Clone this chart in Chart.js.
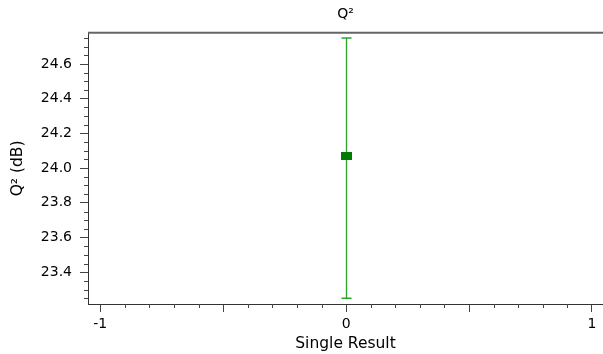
<!DOCTYPE html>
<html>
<head>
<meta charset="utf-8">
<script src="https://cdn.jsdelivr.net/npm/chart.js@4/dist/chart.umd.min.js"></script>
<style>
  html, body { margin: 0; padding: 0; background: #fff; }
  #wrap { width: 603px; height: 354px; }
</style>
</head>
<body>
<div id="wrap"><canvas id="chart" width="603" height="354"></canvas></div>
<script>
// data
const xValues = [0];
const q2Values = [24.07];
const q2Upper = [24.75];
const q2Lower = [23.25];

const xTickValues = [-1, -0.5, 0, 0.5, 1];
const xTickLabels = ["-1", "", "0", "", "1"];
const yTickValues = [23.4, 23.6, 23.8, 24.0, 24.2, 24.4, 24.6];

const xRange = [-1.05, 1.045];
const yRange = [23.217, 24.78];

const FONT = "'DejaVu Sans', 'Liberation Sans', Arial, sans-serif";

// small filled rectangle used as the marker
const marker = document.createElement("canvas");
marker.width = 11;
marker.height = 8;
const mctx = marker.getContext("2d");
mctx.fillStyle = "#007a00";
mctx.fillRect(0, 0, 11, 8);

const errorBars = {
  id: "errorBars",
  beforeDatasetsDraw(chart) {
    const { ctx, scales: { x, y } } = chart;
    ctx.save();
    ctx.strokeStyle = "#2aa52a";
    ctx.lineWidth = 1.3;
    xValues.forEach((v, i) => {
      const px = Math.round(x.getPixelForValue(v)) + 0.5;
      const top = y.getPixelForValue(q2Upper[i]);
      const bot = y.getPixelForValue(q2Lower[i]);
      ctx.beginPath();
      ctx.moveTo(px, top);
      ctx.lineTo(px, bot);
      ctx.moveTo(px - 5, top);
      ctx.lineTo(px + 5, top);
      ctx.moveTo(px - 5, bot);
      ctx.lineTo(px + 5, bot);
      ctx.stroke();
    });
    ctx.restore();
  },
};

const frame = {
  id: "frame",
  afterDraw(chart) {
    const { ctx, chartArea: a, scales: { x, y } } = chart;
    ctx.save();
    // top border
    ctx.strokeStyle = "#666";
    ctx.lineWidth = 2;
    ctx.beginPath();
    ctx.moveTo(a.left, a.top);
    ctx.lineTo(a.right, a.top);
    ctx.stroke();

    // minor ticks
    ctx.strokeStyle = "#444";
    ctx.lineWidth = 1;
    ctx.beginPath();
    for (let k = Math.ceil(yRange[0] / 0.05); k * 0.05 <= yRange[1]; k++) {
      if (k % 4 === 0) continue;
      const py = Math.round(y.getPixelForValue(k * 0.05)) + 0.5;
      ctx.moveTo(a.left - 4, py);
      ctx.lineTo(a.left, py);
    }
    for (let k = -10; k <= 10; k++) {
      if (k % 5 === 0) continue;
      const px = Math.round(x.getPixelForValue(k / 10)) + 0.5;
      ctx.moveTo(px, a.bottom);
      ctx.lineTo(px, a.bottom + 4);
    }
    ctx.stroke();
    ctx.restore();
  },
};

new Chart(document.getElementById("chart"), {
  type: "scatter",
  data: {
    datasets: [{
      label: "Q2",
      data: xValues.map((v, i) => ({ x: v, y: q2Values[i] })),
      pointStyle: marker,
      pointRadius: 6,
      backgroundColor: "#007a00",
      borderColor: "#007a00",
    }],
  },
  options: {
    responsive: false,
    animation: false,
    devicePixelRatio: 1,
    layout: { autoPadding: false, padding: 0 },
    plugins: {
      legend: { display: false },
      tooltip: { enabled: false },
      title: {
        display: true,
        fullSize: false,
        text: "Q²",
        color: "#000",
        font: { family: FONT, size: 14, weight: "normal" },
        padding: { top: 6, bottom: 10 },
      },
    },
    scales: {
      x: {
        type: "linear",
        min: xRange[0],
        max: xRange[1],
        afterBuildTicks: (s) => { s.ticks = xTickValues.map((v) => ({ value: v })); },
        afterFit: (s) => { s.height = 50; },
        ticks: {
          autoSkip: false,
          maxRotation: 0,
          padding: 4,
          color: "#000",
          font: { family: FONT, size: 14 },
          callback: (v, i) => xTickLabels[i],
        },
        grid: { drawOnChartArea: false, tickLength: 8, color: "#444" },
        border: { color: "#333", width: 1 },
        title: {
          display: true,
          text: "Single Result",
          color: "#000",
          font: { family: FONT, size: 15.5 },
          padding: { top: 0, bottom: 1 },
        },
      },
      y: {
        type: "linear",
        min: yRange[0],
        max: yRange[1],
        afterBuildTicks: (s) => { s.ticks = yTickValues.map((v) => ({ value: v })); },
        afterFit: (s) => { s.width = 88; },
        ticks: {
          autoSkip: false,
          padding: 8,
          color: "#000",
          font: { family: FONT, size: 14 },
          callback: (v) => v.toFixed(1),
        },
        grid: { drawOnChartArea: false, tickLength: 8, color: "#444" },
        border: { color: "#333", width: 1 },
        title: {
          display: true,
          text: "Q² (dB)",
          color: "#000",
          font: { family: FONT, size: 15.5 },
          padding: { top: 9, bottom: 0 },
        },
      },
    },
  },
  plugins: [errorBars, frame],
});
</script>
</body>
</html>
